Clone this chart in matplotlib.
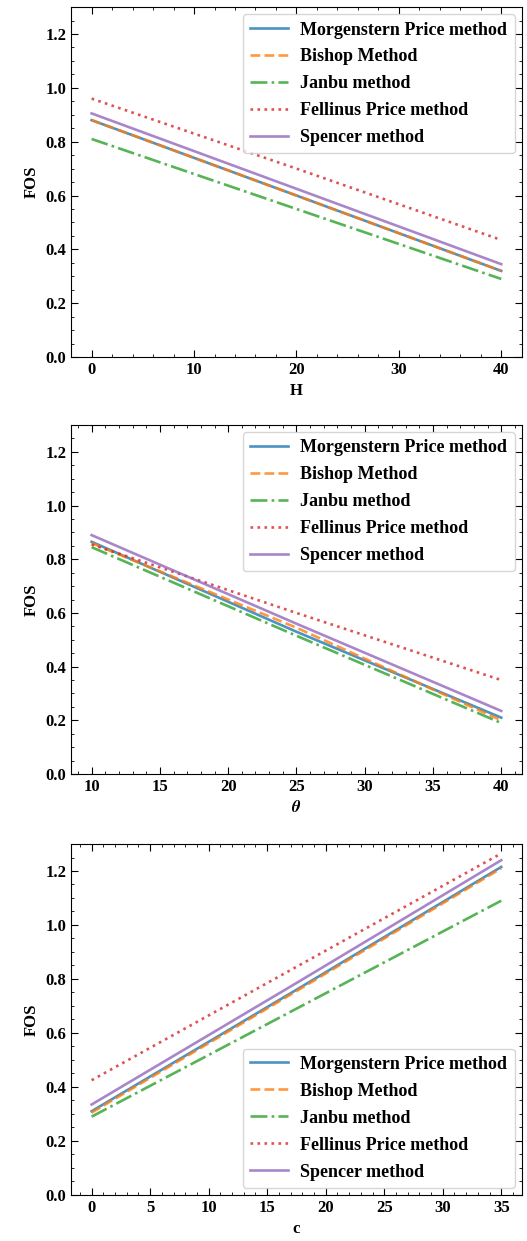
import numpy as np
import matplotlib
matplotlib.use("Agg")
import matplotlib.pyplot as plt
from matplotlib.ticker import AutoMinorLocator

plt.rcParams['font.family'] = ['Liberation Serif', 'DejaVu Serif']
plt.rcParams['font.weight'] = 'bold'
plt.rcParams['mathtext.fontset'] = 'stix'
plt.rcParams['font.size'] = 12

labels = ['Morgenstern Price method', 'Bishop Method', 'Janbu method',
          'Fellinus Price method', 'Spencer method']

# panel 1: H
H = [0, 20, 40]
H_mp = [0.88, 0.60, 0.32]
H_bishop = [0.88, 0.60, 0.32]
H_janbu = [0.81, 0.55, 0.29]
H_fell = [0.96, 0.70, 0.435]
H_spencer = [0.905, 0.625, 0.345]

# panel 2: theta
theta = [10, 25, 40]
th_mp = [0.865, 0.53, 0.21]
th_bishop = [0.86, 0.545, 0.20]
th_janbu = [0.845, 0.515, 0.19]
th_fell = [0.855, 0.60, 0.35]
th_spencer = [0.89, 0.56, 0.235]

# panel 3: c
c = [0, 17.5, 35]
c_mp = [0.31, 0.76, 1.215]
c_bishop = [0.305, 0.755, 1.21]
c_janbu = [0.29, 0.69, 1.09]
c_fell = [0.425, 0.845, 1.265]
c_spencer = [0.335, 0.785, 1.24]

styles = [('#1f77b4', '-'), ('#ff7f0e', '--'), ('#2ca02c', '-.'),
          ('#d62728', ':'), ('#9467bd', '-')]

fig = plt.figure(figsize=(5.27, 12.41), dpi=100)
positions = [[0.135, 0.7123, 0.855, 0.282],
             [0.135, 0.3763, 0.855, 0.2812],
             [0.135, 0.0371, 0.855, 0.2828]]

panels = [
    (H, [H_mp, H_bishop, H_janbu, H_fell, H_spencer], 'H', 'upper right', 10),
    (theta, [th_mp, th_bishop, th_janbu, th_fell, th_spencer], r'$\theta$', 'upper right', 5),
    (c, [c_mp, c_bishop, c_janbu, c_fell, c_spencer], 'c', 'lower right', 5),
]

for pos, (x, ys, xl, loc, step) in zip(positions, panels):
    ax = fig.add_axes(pos)
    for y, (col, ls), lab in zip(ys, styles, labels):
        ax.plot(x, y, color=col, linestyle=ls, linewidth=1.9, alpha=0.8, label=lab)
    ax.set_ylim(0, 1.3)
    ax.set_yticks(np.arange(0, 1.21, 0.2))
    ax.set_xticks(np.arange(x[0], x[-1] + 0.1, step))
    ax.xaxis.set_minor_locator(AutoMinorLocator())
    ax.yaxis.set_minor_locator(AutoMinorLocator())
    ax.tick_params(which='both', direction='in', top=True, right=True)
    ax.tick_params(which='major', length=5)
    ax.tick_params(which='minor', length=2.5)
    ax.set_xlabel(xl, fontweight='bold')
    ax.set_ylabel('FOS', fontweight='bold')
    ax.legend(loc=loc, prop={'weight': 'bold', 'size': 13}, handlelength=2.1,
              handletextpad=0.7, labelspacing=0.55, borderaxespad=0.4)

fig.savefig('out.png', dpi=100)
